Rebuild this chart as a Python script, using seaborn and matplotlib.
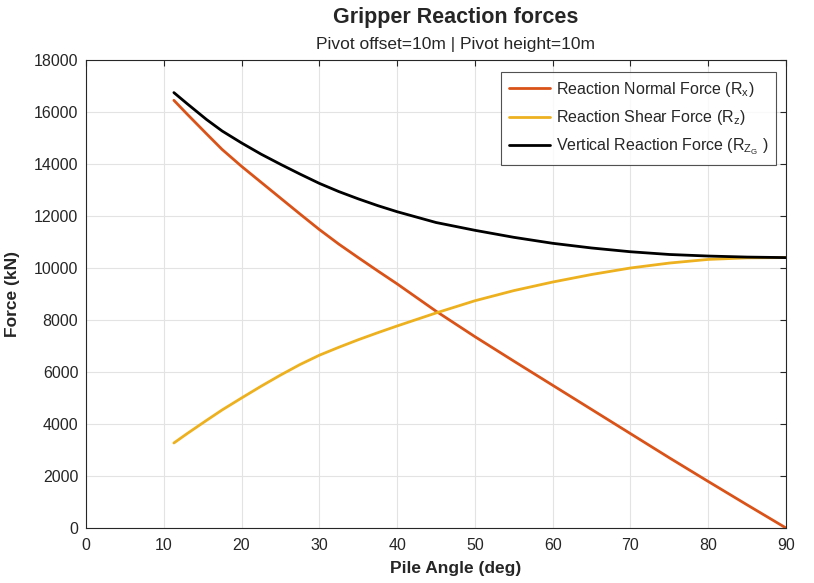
import matplotlib
matplotlib.use("Agg")
import matplotlib.pyplot as plt
import seaborn as sns
import pandas as pd

# Data
angle = [11.3, 13, 15.5, 17.5, 20, 22.5, 25, 27.5, 30, 32.5, 35, 37.5, 40,
         45, 50, 55, 60, 65, 70, 75, 80, 85, 90]
rx = [16450, 15920, 15160, 14560, 13910, 13300, 12690, 12080, 11480, 10920, 10400, 9890, 9390,
      8340, 7360, 6420, 5490, 4560, 3630, 2700, 1790, 890, 0]
rz = [3270, 3630, 4140, 4540, 5000, 5450, 5880, 6285, 6645, 6950, 7240, 7510, 7770,
      8270, 8740, 9130, 9460, 9750, 10000, 10190, 10330, 10390, 10400]
rzg = [16746, 16320, 15710, 15270, 14810, 14380, 13990, 13615, 13255, 12940, 12660, 12400, 12165,
       11750, 11450, 11180, 10950, 10770, 10625, 10520, 10460, 10420, 10400]

labels = ["Reaction Normal Force (R$_x$)",
          "Reaction Shear Force (R$_z$)",
          "Vertical Reaction Force (R$_{Z_G}$ )"]
colors = ["#D95319", "#EDB120", "#000000"]

xticks = list(range(0, 91, 10))
yticks = list(range(0, 18001, 2000))

sns.set_style("white")
plt.rcParams["font.family"] = ["Liberation Sans", "DejaVu Sans"]
plt.rcParams["mathtext.default"] = "regular"

fig = plt.figure(figsize=(8.14, 5.83), dpi=100)
ax = fig.add_axes([86/814, 1-528/583, 700/814, 468/583])

df = pd.concat([
    pd.DataFrame({"angle": angle, "force": vals, "series": lab})
    for vals, lab in zip([rx, rz, rzg], labels)
])
for lab, col in zip(labels, colors):
    sub = df[df["series"] == lab]
    sns.lineplot(data=sub, x="angle", y="force", ax=ax, color=col,
                 linewidth=2.0, label=lab, sort=False)

ax.set_xlim(0, 90)
ax.set_ylim(0, 18000)
ax.set_xticks(xticks)
ax.set_yticks(yticks)
ax.tick_params(direction="in", length=4, width=0.8, labelsize=11.5,
               colors="#262626", top=True, right=True,
               labeltop=False, labelright=False)
ax.tick_params(axis="x", pad=7)
ax.tick_params(axis="y", pad=5.5)
ax.grid(True, color="#e3e3e3", linewidth=0.8)
for s in ax.spines.values():
    s.set_visible(True)
    s.set_color("#262626")
    s.set_linewidth(0.8)

ax.set_xlabel("Pile Angle (deg)", fontsize=12.5, fontweight="bold", color="#262626")
ax.set_ylabel("Force (kN)", fontsize=12.5, fontweight="bold", color="#262626")
ax.xaxis.set_label_coords((456-86)/700, (528-561)/468)
ax.yaxis.set_label_coords((20-86)/700, 0.5)

fig.text(456/814, 1-18/583, "Gripper Reaction forces", ha="center", va="center",
         fontsize=15.5, fontweight="bold")
fig.text(456/814, 1-45/583, "Pivot offset=10m | Pivot height=10m", ha="center",
         va="center", fontsize=12.5)

leg = ax.legend(loc="upper right", bbox_to_anchor=(0.986, 0.975), borderaxespad=0,
                fontsize=11.5, frameon=True, fancybox=False, handlelength=2.6,
                labelspacing=0.6, borderpad=0.5, handletextpad=0.35)
leg.get_frame().set_edgecolor("#262626")
leg.get_frame().set_linewidth(0.8)

fig.savefig("out.png", dpi=100)
